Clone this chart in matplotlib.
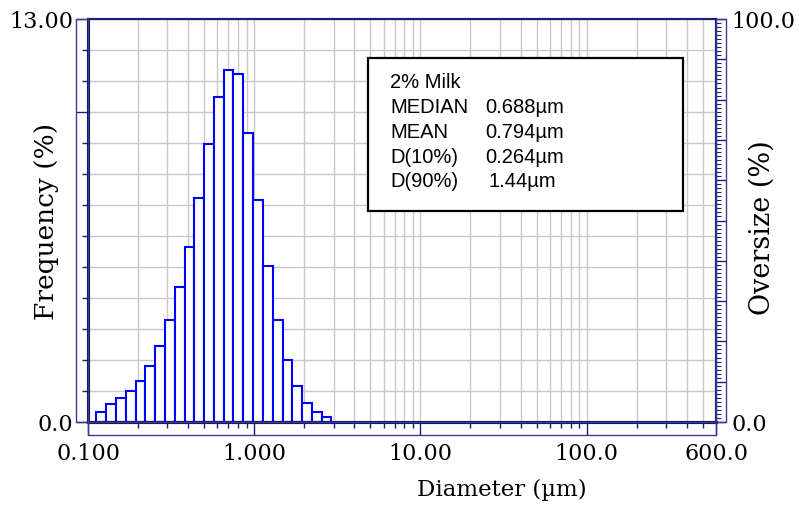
import matplotlib
matplotlib.use("Agg")
import matplotlib.pyplot as plt
from matplotlib.patches import Rectangle
from matplotlib.ticker import FixedLocator, FixedFormatter

# bin left edges (um), last value is the right edge of the last bin
bin_edges = [0.1122, 0.1285, 0.1472, 0.1686, 0.1931, 0.2212, 0.2533, 0.2902,
             0.3324, 0.3807, 0.4361, 0.4995, 0.5721, 0.6552, 0.7505, 0.8596,
             0.9846, 1.1278, 1.2918, 1.4796, 1.6947, 1.9411, 2.2233, 2.5466,
             2.9169]
# frequency (%) per bin
freq = [0.33, 0.59, 0.78, 1.00, 1.32, 1.82, 2.46, 3.28, 4.35, 5.65, 7.23, 8.98,
        10.48, 11.37, 11.21, 9.32, 7.15, 5.03, 3.28, 1.99, 1.15, 0.62, 0.33, 0.16]

x_ticks = [0.1, 1, 10, 100, 600]
x_tick_labels = ["0.100", "1.000", "10.00", "100.0", "600.0"]
x_minor = [0.2, 0.3, 0.4, 0.5, 0.6, 0.7, 0.8, 0.9, 2, 3, 4, 5, 6, 7, 8, 9,
           20, 30, 40, 50, 60, 70, 80, 90, 200, 300, 400, 500]

stats_names = ["MEDIAN", "MEAN", "D(10%)", "D(90%)"]
stats_values = ["0.688µm", "0.794µm", "0.264µm", "1.44µm"]
sample_name = "2% Milk"

W, H = 799, 506
navy = "#1c1c7a"
serif = "DejaVu Serif"

fig = plt.figure(figsize=(W / 100, H / 100), dpi=100)
fig.patch.set_facecolor("white")

# plot area in pixels
L, R, T, B = 88, 716, 20, 423
ax = fig.add_axes([L / W, (H - B) / H, (R - L) / W, (B - T) / H])

lefts = bin_edges[:-1]
widths = [bin_edges[i + 1] - bin_edges[i] for i in range(len(lefts))]
ax.bar(lefts, freq, width=widths, align="edge", facecolor="white",
       edgecolor="#0000ff", linewidth=1.5, zorder=2)

ax.set_xscale("log")
ax.set_xlim(0.1, 600)
ax.set_ylim(0, 13)
ax.set_axisbelow(True)

ax.xaxis.set_major_locator(FixedLocator(x_ticks))
ax.xaxis.set_major_formatter(FixedFormatter(x_tick_labels))
ax.xaxis.set_minor_locator(FixedLocator(x_minor))
ax.xaxis.set_minor_formatter(FixedFormatter([""] * len(x_minor)))

ax.yaxis.set_major_locator(FixedLocator([0, 10, 13]))
ax.yaxis.set_major_formatter(FixedFormatter(["0.0", "", "13.00"]))
ax.yaxis.set_minor_locator(FixedLocator(list(range(1, 13))))

ax.grid(which="both", color="#c8c8c8", linewidth=1)

ax.tick_params(axis="x", which="major", length=9.4, width=1, color=navy,
               pad=5, labelsize=16)
ax.tick_params(axis="x", which="minor", length=4.3, width=1, color=navy)
ax.tick_params(axis="y", which="major", length=8.6, width=1, color=navy,
               pad=2, labelsize=16)
ax.tick_params(axis="y", which="minor", length=4.3, width=1, color=navy)
for lab in ax.get_xticklabels() + ax.get_yticklabels():
    lab.set_family(serif)

# right axis (oversize)
ax2 = ax.twinx()
ax2.set_ylim(0, 100)
ax2.yaxis.set_major_locator(FixedLocator(list(range(0, 101, 10))))
ax2.yaxis.set_major_formatter(FixedFormatter(["0.0"] + [""] * 9 + ["100.0"]))
ax2.yaxis.set_minor_locator(FixedLocator([v for v in range(1, 100) if v % 10]))
ax2.tick_params(axis="y", which="major", length=7.2, width=1, color=navy,
                pad=4, labelsize=16)
ax2.tick_params(axis="y", which="minor", length=3.4, width=0.8, color=navy)
for lab in ax2.get_yticklabels():
    lab.set_family(serif)

for a in (ax, ax2):
    for side in ["left", "bottom"]:
        a.spines[side].set_color("#10105e")
        a.spines[side].set_linewidth(2.2)
    for side in ["top", "right"]:
        a.spines[side].set_color(navy)
        a.spines[side].set_linewidth(1.5)

# outer boxes round the tick areas
boxes = [(76, T, L - 76, B - T), (L, B, R - L, 436 - B), (R, T, 726 - R, B - T)]
for bx, by, bw, bh in boxes:
    fig.add_artist(Rectangle((bx / W, (H - by - bh) / H), bw / W, bh / H,
                             transform=fig.transFigure, fill=False,
                             edgecolor="#3a3a9a", linewidth=1))

# axis titles
fig.text(47 / W, 1 - 221 / H, "Frequency (%)", rotation=90, ha="center",
         va="center", fontsize=19, family=serif)
fig.text(762 / W, 1 - 228 / H, "Oversize (%)", rotation=90, ha="center",
         va="center", fontsize=19.5, family=serif)
fig.text(502 / W, 1 - 490 / H, "Diameter (µm)", ha="center", va="center",
         fontsize=16.5, family=serif)

# statistics box
bx0, by0, bx1, by1 = 368, 59, 683, 212
fig.add_artist(Rectangle((bx0 / W, (H - by1) / H), (bx1 - bx0) / W,
                         (by1 - by0) / H, transform=fig.transFigure,
                         facecolor="white", edgecolor="black", linewidth=1.6,
                         zorder=3))
sans = "Liberation Sans"
fs = 14.5
fig.text(390 / W, 1 - 88 / H, sample_name, fontsize=fs, family=sans,
         va="baseline", zorder=4)
for i, (name, val) in enumerate(zip(stats_names, stats_values)):
    yb = 113 + 24.8 * i
    fig.text(390 / W, 1 - yb / H, name, fontsize=fs, family=sans,
             va="baseline", zorder=4)
    xv = 488 if i == 3 else 485
    fig.text(xv / W, 1 - yb / H, val, fontsize=fs, family=sans,
             va="baseline", zorder=4)

plt.savefig("out.png", dpi=100)
